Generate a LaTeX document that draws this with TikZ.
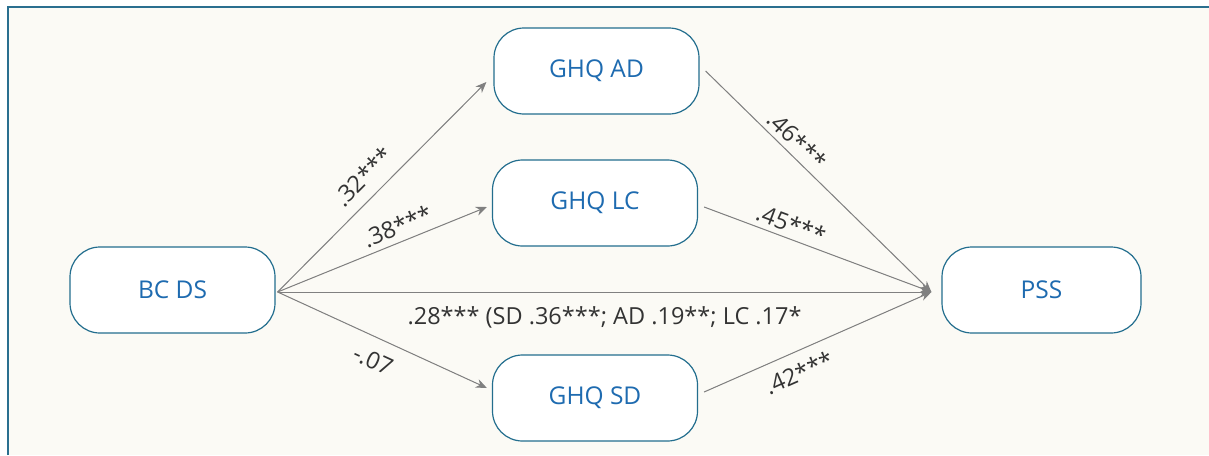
\documentclass[tikz,border=0pt]{standalone}
\usepackage{fontspec}
\setmainfont{Open Sans}
\usetikzlibrary{arrows.meta,calc}
\definecolor{cream}{HTML}{FBFAF5}
\definecolor{frameteal}{HTML}{2A6F8F}
\definecolor{boxteal}{HTML}{236E8E}
\definecolor{txtblue}{HTML}{1E6BB0}
\definecolor{linegray}{HTML}{808080}
\definecolor{labgray}{HTML}{333333}
\tikzset{
  var/.style={draw=boxteal, line width=1.2pt, fill=white, rounded corners=30pt,
    minimum width=205pt, minimum height=86pt, inner sep=0pt,
    text=txtblue, font=\fontsize{24.5}{28}\selectfont},
  arr/.style={draw=linegray, line width=1pt, -{Stealth[length=11pt,width=9pt]}, fill=linegray},
  lab/.style={text=labgray, font=\fontsize{23.5}{27}\selectfont, inner sep=1pt, sloped}
}
\begin{document}
\begin{tikzpicture}[x=1pt,y=-1pt]
\useasboundingbox (0,0) rectangle (1209,455);
\fill[white] (0,0) rectangle (1209,455);
\fill[cream] (8,7) rectangle (1209,455);
\draw[frameteal, line width=2pt] (8,455) -- (8,7) -- (1209,7);

\node[var] (bc) at (172.5,290) {BC DS};
\node[var] (ad) at (596.5,71) {GHQ AD};
\node[var] (lc) at (595,203) {GHQ LC};
\node[var] (sd) at (595,398) {GHQ SD};
\node[var, minimum width=199pt] (pss) at (1041.5,290) {PSS};

\coordinate (s) at ([shift={(2,2)}]bc.east);
\coordinate (t) at ([shift={(-10,2)}]pss.west);

\draw[arr] (s) -- ([shift={(-7,11)}]ad.west)
  node[lab, above=10pt, pos=0.48] {.32***};
\draw[arr] (s) -- ([shift={(-5,4)}]lc.west)
  node[lab, above=5pt, pos=0.6] {.38***};
\draw[arr] (s) -- (t)
  node[lab, below=13pt, pos=0.5] {.28*** (SD .36***; AD .19**; LC .17*};
\draw[arr] (s) -- ([shift={(-5,-10)}]sd.west)
  node[lab, below=12pt, pos=0.5] {-.07};

\draw[arr] ([shift={(6,0)}]ad.east) -- (t)
  node[lab, above=4pt, pos=0.36] {.46***};
\draw[arr] ([shift={(6,4)}]lc.east) -- (t)
  node[lab, above=4pt, pos=0.36] {.45***};
\draw[arr] ([shift={(6,-6)}]sd.east) -- (t)
  node[lab, below=10pt, pos=0.38] {.42***};
\end{tikzpicture}
\end{document}
